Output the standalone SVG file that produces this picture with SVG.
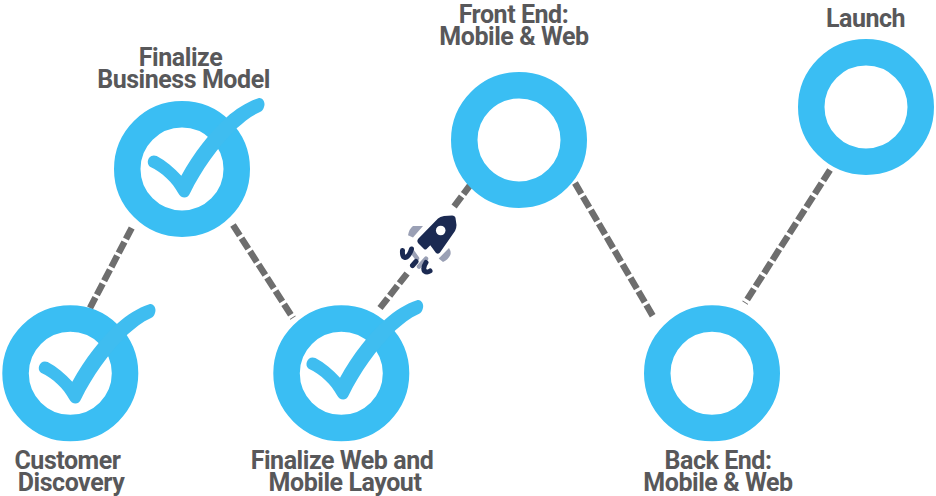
<svg xmlns="http://www.w3.org/2000/svg" width="936" height="496" viewBox="0 0 936 496">
<style>
.ring{fill:none;stroke:#3abef3;stroke-width:26.5}
.check{fill:#3fbdf0}
.conn{fill:none;stroke:#6e6e6e;stroke-width:6.500;stroke-dasharray:12.500 3.200}
text{font-family:Roboto,"Liberation Sans",sans-serif;font-weight:700;font-size:25px;fill:#58585a;text-anchor:middle;letter-spacing:-.45px}
.fin{fill:#9aa0b5}
.sw{fill:none;stroke:#1b2a52;stroke-width:5;stroke-linecap:round}
</style>
<defs>
<path id="tick" d="M-25.3-13C-16-8-8-1-.7 6.7C12-16 28-37 44.7-51.7C54-60 65-67 76.3-70.7C80-72 84-67 82-62C81-59 80-58 78-57C69-53 62-47 54.7-40.7C35-21 19 2 8 24.3C6 30-1 30-3.700 24.300C-9 14-20 3-32-2.300C-37-6-33-16-25.300-13Z"/>
</defs>
<g id="connectors">
<path class="conn" d="M131.700 228L90 308"/>
<path class="conn" d="M233 225L293 318"/>
<path class="conn" d="M380 308L409 271"/>
<path class="conn" d="M471 184L453 208"/>
<path class="conn" d="M575 183L654 318"/>
<path class="conn" d="M830 170L745 303"/>
</g>
<g id="customer-discovery">
<circle class="ring" cx="70.300" cy="373.300" r="54.750"/>
<use href="#tick" class="check" x="73" y="375"/>
<text x="67.500" y="468.500">Customer</text><text x="71" y="491">Discovery</text>
</g>
<g id="finalize-business-model">
<circle class="ring" cx="182" cy="169" r="54.750"/>
<use href="#tick" class="check" x="182" y="169"/>
<text x="180.500" y="65.500">Finalize</text><text x="183.500" y="88">Business Model</text>
</g>
<g id="finalize-web-mobile">
<circle class="ring" cx="341.300" cy="373.300" r="54.750"/>
<use href="#tick" class="check" x="340.700" y="371"/>
<text x="342" y="468.500">Finalize Web and</text><text x="345" y="491">Mobile Layout</text>
</g>
<g id="front-end">
<circle class="ring" cx="519" cy="140" r="54.750"/>
<text x="513.500" y="22.500">Front End:</text><text x="514" y="44.500">Mobile &amp; Web</text>
</g>
<g id="back-end">
<circle class="ring" cx="712" cy="373.300" r="54.750"/>
<text x="718" y="468.500">Back End:</text><text x="718" y="491">Mobile &amp; Web</text>
</g>
<g id="launch">
<circle class="ring" cx="866" cy="107" r="54.750"/>
<text x="865.500" y="26.500">Launch</text>
</g>
<g id="rocket">
<path fill="#1b2a52" d="M418 239L438 218.500Q440 216.500 444 216L452 215.500Q455 215.500 455.500 218L456.500 225Q456.500 228 455 231L440 252.500Q438.500 254.500 436 253L430.300 245.300L426.300 249.300Q425 250 424 249L418 243Q416.500 241 418 239Z"/>
<circle cx="440.700" cy="230.500" r="4.800" fill="#fff"/>
<path class="fin" d="M408 235.300Q409 229 413 226L423 226L413 237.500ZM438.700 258.500L449 248Q451.500 252 450.300 255Q448 260 443 262Z"/>
<path class="sw" style="stroke:#9aa0b5;stroke-width:4.500" d="M411.300 250.300L417 258.300M419 266.500L426 258.700"/>
<path class="sw" d="M402.500 250.500Q402 257 405 257.500Q409 257 411.500 249M412.500 265.500L416 261.500M426 262.500Q422.500 268 424.500 271Q427 273 430 271"/>
</g>
</svg>
